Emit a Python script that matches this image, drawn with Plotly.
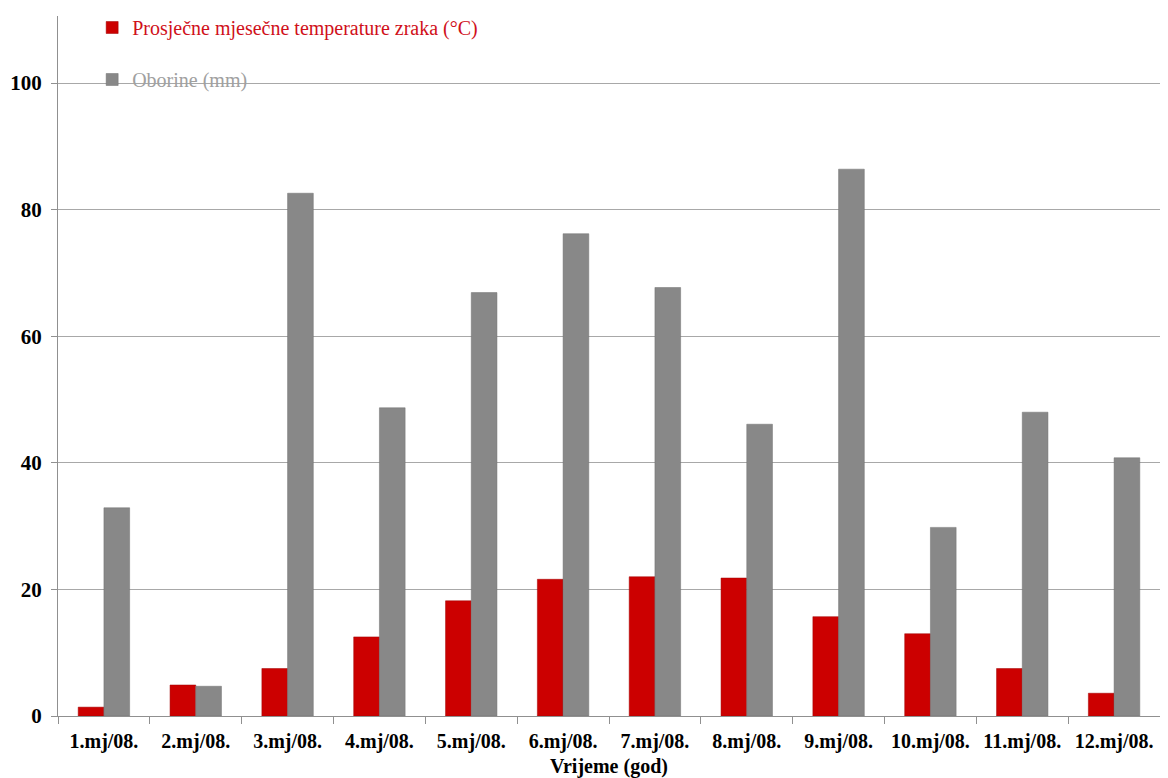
import plotly.graph_objects as go

months = ["1.mj/08.", "2.mj/08.", "3.mj/08.", "4.mj/08.", "5.mj/08.", "6.mj/08.",
          "7.mj/08.", "8.mj/08.", "9.mj/08.", "10.mj/08.", "11.mj/08.", "12.mj/08."]
temperature = [1.4, 4.9, 7.5, 12.5, 18.2, 21.6, 22.0, 21.8, 15.7, 13.0, 7.5, 3.6]
precipitation = [32.9, 4.7, 82.6, 48.7, 66.9, 76.2, 67.7, 46.1, 86.4, 29.8, 48.0, 40.8]
y_ticks = [0, 20, 40, 60, 80, 100]

font_family = "Liberation Serif, Times New Roman, serif"

fig = go.Figure()
fig.add_trace(go.Bar(
    x=months, y=temperature,
    name="<span style='color:#d0101a'>Prosječne mjesečne temperature zraka (°C)</span>",
    marker=dict(color="#cc0000", line=dict(color="#a00000", width=0.5)),
    legendgroup="a",
))
fig.add_trace(go.Bar(
    x=months, y=precipitation,
    name="<span style='color:#a0a0a0'>Oborine (mm)</span>",
    marker=dict(color="#888888", line=dict(color="#707070", width=0.5)),
    legendgroup="b",
))

fig.update_layout(
    width=1152, height=770,
    margin=dict(l=50, r=0, t=4, b=62),
    paper_bgcolor="white", plot_bgcolor="white",
    barmode="group", bargap=0.44, bargroupgap=0,
    font=dict(family=font_family, size=20, color="black"),
    legend=dict(
        x=0.031, y=1.012, xanchor="left", yanchor="top",
        bgcolor="rgba(0,0,0,0)",
        font=dict(family=font_family, size=20),
        traceorder="grouped", tracegroupgap=23,
    ),
    xaxis=dict(
        automargin=False,
        tickfont=dict(family=font_family, size=20, weight="bold"),
        tickson="boundaries", ticks="outside", ticklen=7, tickcolor="#909090",
        ticklabelstandoff=7,
        showline=True, linecolor="#909090", linewidth=1,
        title=dict(text="<b>Vrijeme (god)</b>", font=dict(family=font_family, size=20), standoff=8),
    ),
    yaxis=dict(
        automargin=False,
        range=[0, 110.6], tickvals=y_ticks,
        tickfont=dict(family=font_family, size=21, weight="bold"),
        ticks="outside", ticklen=6, tickcolor="#909090",
        ticklabelstandoff=5,
        showline=True, linecolor="#909090", linewidth=1,
        showgrid=True, gridcolor="#a8a8a8", gridwidth=1,
        zeroline=False,
    ),
)

fig.write_html("out.html")
